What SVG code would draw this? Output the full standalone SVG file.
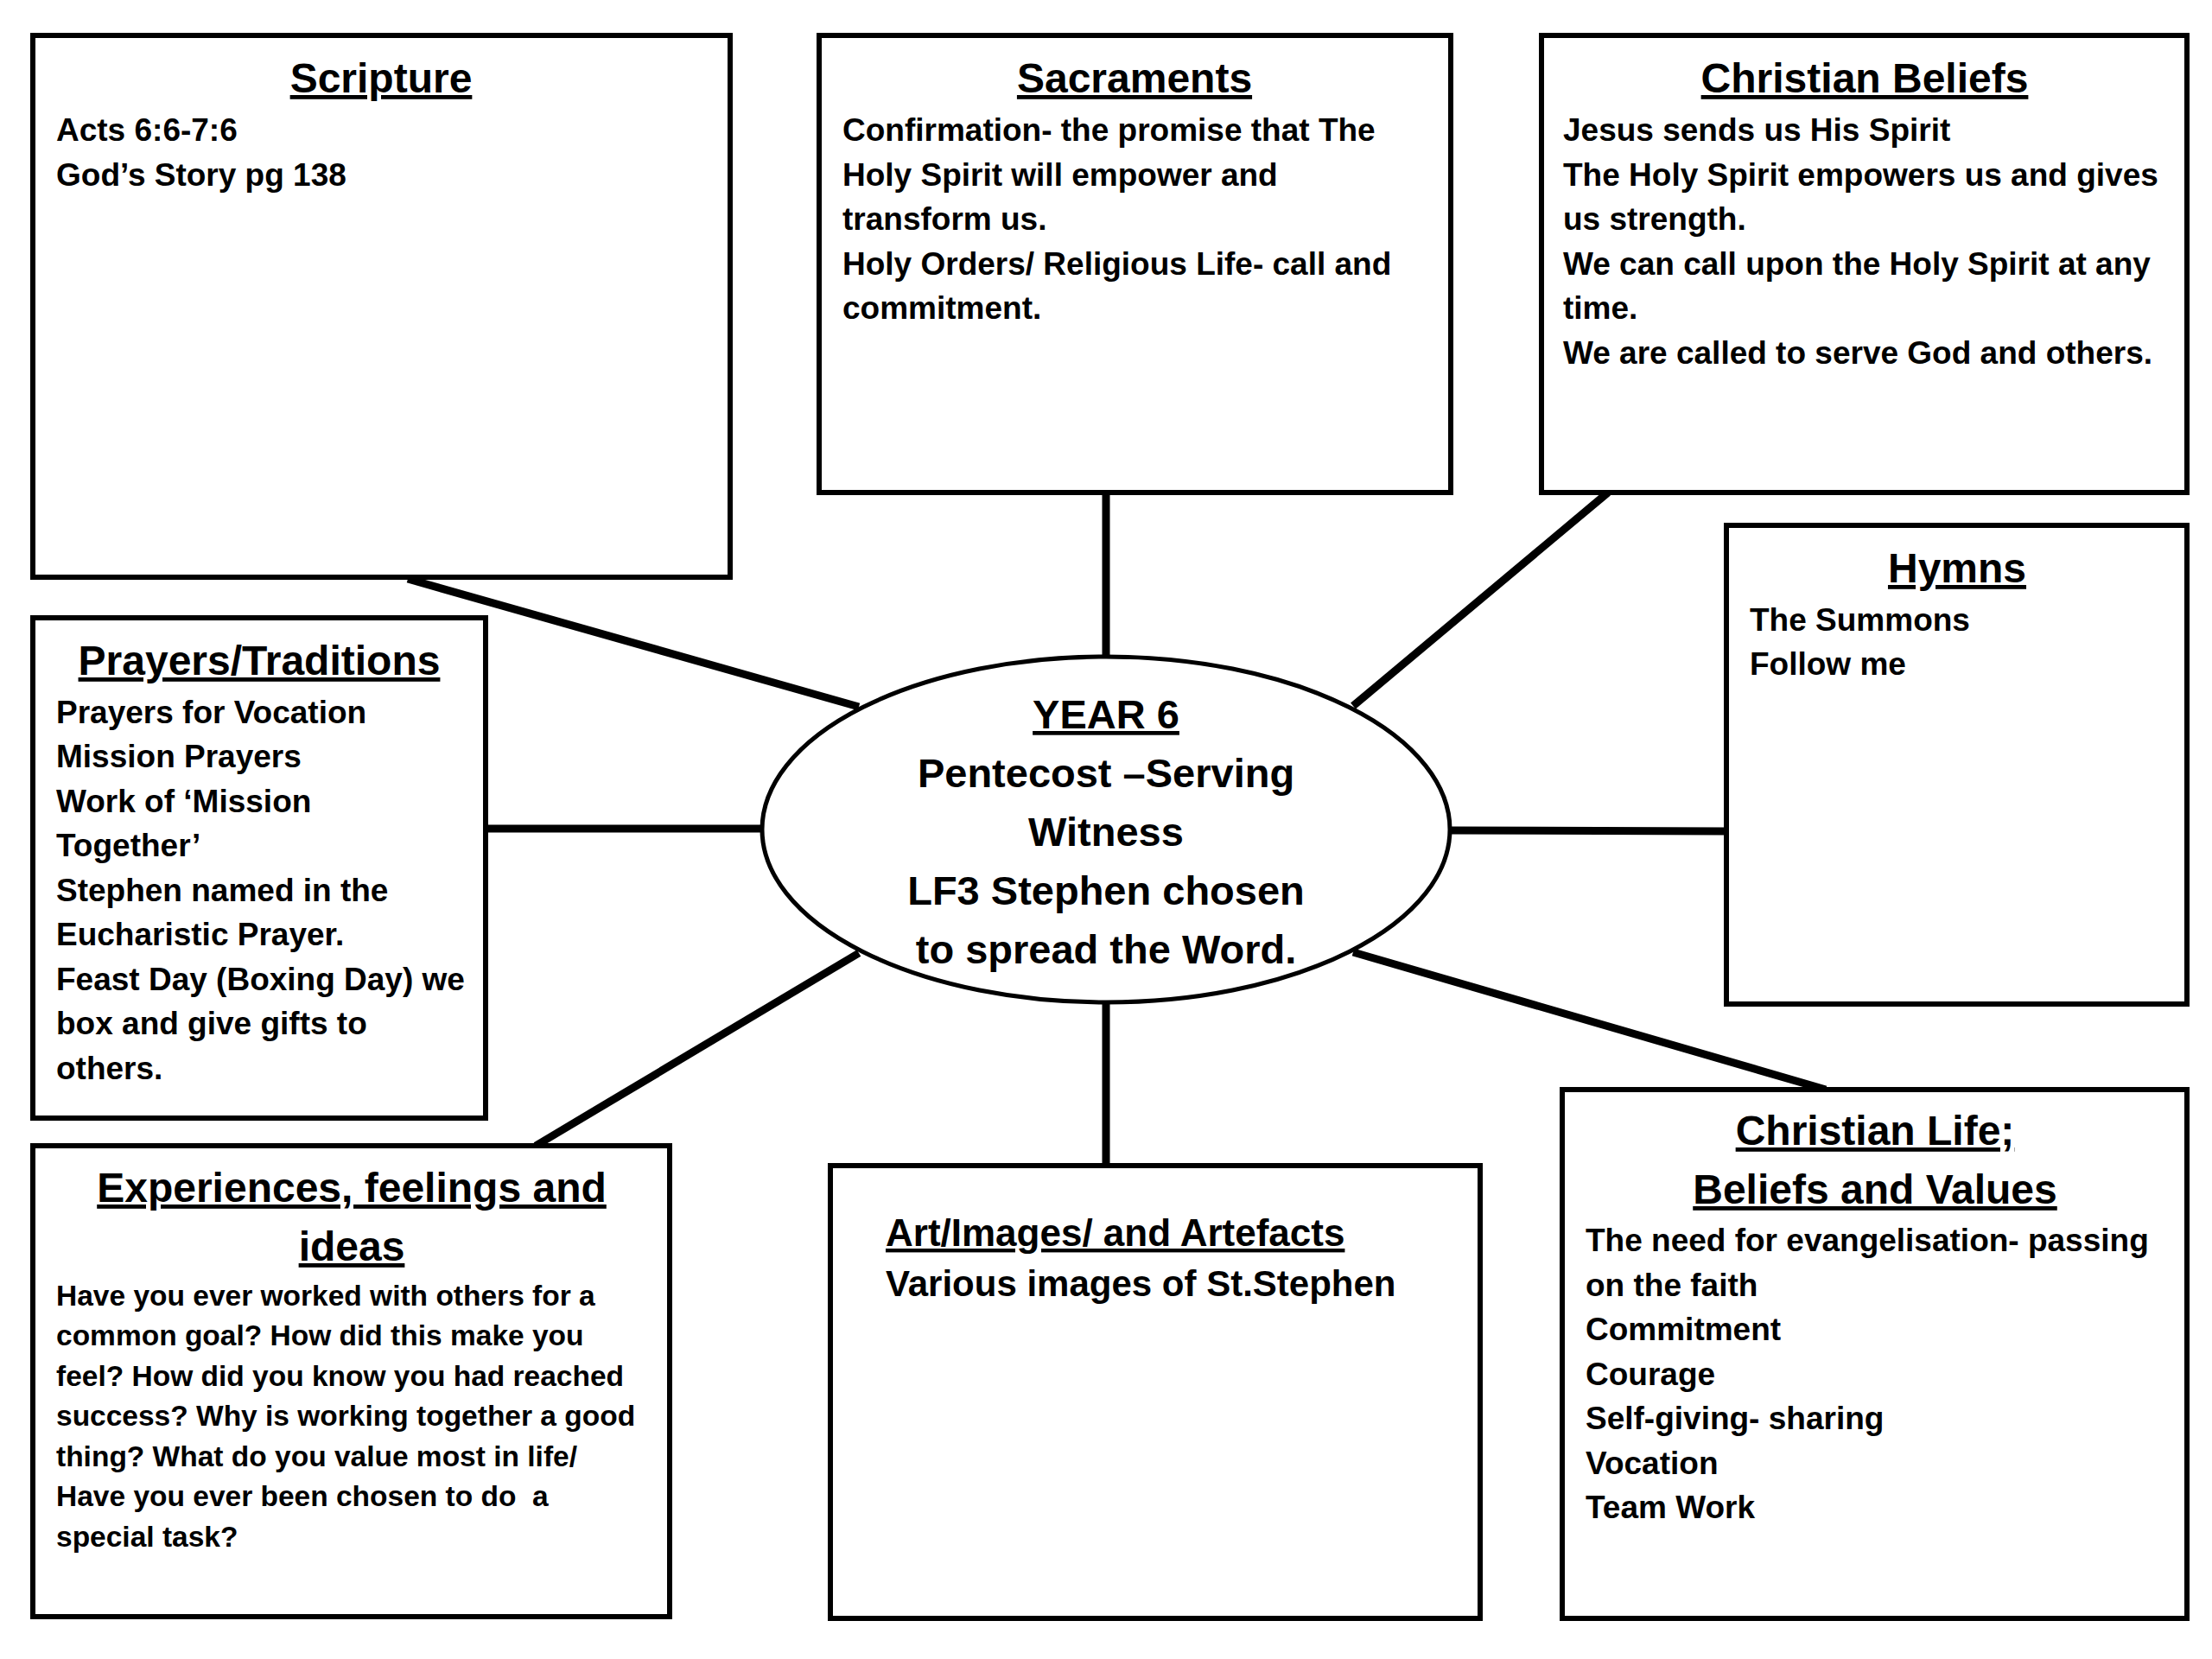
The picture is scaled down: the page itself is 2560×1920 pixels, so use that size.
<svg xmlns="http://www.w3.org/2000/svg" width="2560" height="1920" viewBox="0 0 2560 1920">
<style>
.box{fill:#fff;stroke:#000;stroke-width:6}
.conn{stroke:#000;stroke-width:9;fill:none}
.hub{fill:#fff;stroke:#000;stroke-width:5}
text{font-family:"Liberation Sans",Arial,sans-serif;font-weight:bold;fill:#000}
.title{font-size:48px;text-anchor:middle;text-decoration:underline}
.body{font-size:37px}
.small{font-size:33.5px}
.hubt{font-size:47px;text-anchor:middle}
</style>
<rect width="2560" height="1920" fill="#fff"/>
<g id="connectors">
<line class="conn" x1="472" y1="670" x2="994" y2="818"/>
<line class="conn" x1="1280" y1="570" x2="1280" y2="760"/>
<line class="conn" x1="1861" y1="570" x2="1566" y2="817"/>
<line class="conn" x1="1677" y1="961" x2="1998" y2="962"/>
<line class="conn" x1="562" y1="959" x2="882" y2="959"/>
<line class="conn" x1="994" y1="1103" x2="620" y2="1326"/>
<line class="conn" x1="1280" y1="1160" x2="1280" y2="1349"/>
<line class="conn" x1="1566" y1="1102" x2="2113" y2="1261"/>
</g>
<g id="scripture">
<rect class="box" x="38" y="41" width="807" height="627"/>
<text class="title" x="441" y="107">Scripture</text>
<text class="body" x="65" y="163">Acts 6:6-7:6</text>
<text class="body" x="65" y="215">God’s Story pg 138</text>
</g>
<g id="sacraments">
<rect class="box" x="948" y="41" width="731" height="529"/>
<text class="title" x="1313" y="107">Sacraments</text>
<text class="body" x="975" y="163">Confirmation- the promise that The</text>
<text class="body" x="975" y="215">Holy Spirit will empower and</text>
<text class="body" x="975" y="266">transform us.</text>
<text class="body" x="975" y="318">Holy Orders/ Religious Life- call and</text>
<text class="body" x="975" y="369">commitment.</text>
</g>
<g id="christian-beliefs">
<rect class="box" x="1784" y="41" width="747" height="529"/>
<text class="title" x="2158" y="107">Christian Beliefs</text>
<text class="body" x="1809" y="163">Jesus sends us His Spirit</text>
<text class="body" x="1809" y="215">The Holy Spirit empowers us and gives</text>
<text class="body" x="1809" y="266">us strength.</text>
<text class="body" x="1809" y="318">We can call upon the Holy Spirit at any</text>
<text class="body" x="1809" y="369">time.</text>
<text class="body" x="1809" y="421">We are called to serve God and others.</text>
</g>
<g id="hymns">
<rect class="box" x="1998" y="608" width="533" height="554"/>
<text class="title" x="2265" y="674">Hymns</text>
<text class="body" x="2025" y="730">The Summons</text>
<text class="body" x="2025" y="781">Follow me</text>
</g>
<g id="prayers-traditions">
<rect class="box" x="38" y="715" width="524" height="579"/>
<text class="title" x="300" y="781">Prayers/Traditions</text>
<text class="body" x="65" y="837">Prayers for Vocation</text>
<text class="body" x="65" y="888">Mission Prayers</text>
<text class="body" x="65" y="940">Work of ‘Mission</text>
<text class="body" x="65" y="991">Together’</text>
<text class="body" x="65" y="1043">Stephen named in the</text>
<text class="body" x="65" y="1094">Eucharistic Prayer.</text>
<text class="body" x="65" y="1146">Feast Day (Boxing Day) we</text>
<text class="body" x="65" y="1197">box and give gifts to</text>
<text class="body" x="65" y="1249">others.</text>
</g>
<g id="experiences">
<rect class="box" x="38" y="1326" width="737" height="545"/>
<text class="title" x="407" y="1391">Experiences, feelings and</text>
<text class="title" x="407" y="1459">ideas</text>
<text class="small" x="65" y="1511">Have you ever worked with others for a</text>
<text class="small" x="65" y="1557">common goal? How did this make you</text>
<text class="small" x="65" y="1604">feel? How did you know you had reached</text>
<text class="small" x="65" y="1650">success? Why is working together a good</text>
<text class="small" x="65" y="1697">thing? What do you value most in life/</text>
<text class="small" x="65" y="1743" xml:space="preserve">Have you ever been chosen to do  a</text>
<text class="small" x="65" y="1790">special task?</text>
</g>
<g id="art-images">
<rect class="box" x="961" y="1349" width="752" height="524"/>
<text x="1025" y="1442" style="font-size:44px;text-decoration:underline">Art/Images/ and Artefacts</text>
<text x="1025" y="1500" style="font-size:42px">Various images of St.Stephen</text>
</g>
<g id="christian-life">
<rect class="box" x="1808" y="1261" width="723" height="612"/>
<text class="title" x="2170" y="1325">Christian Life;</text>
<text class="title" x="2170" y="1393">Beliefs and Values</text>
<text class="body" x="1835" y="1448">The need for evangelisation- passing</text>
<text class="body" x="1835" y="1500">on the faith</text>
<text class="body" x="1835" y="1551">Commitment</text>
<text class="body" x="1835" y="1603">Courage</text>
<text class="body" x="1835" y="1654">Self-giving- sharing</text>
<text class="body" x="1835" y="1706">Vocation</text>
<text class="body" x="1835" y="1757">Team Work</text>
</g>
<g id="centre">
<ellipse class="hub" cx="1280" cy="960" rx="398" ry="200"/>
<text class="hubt" x="1280" y="843" style="text-decoration:underline">YEAR 6</text>
<text class="hubt" x="1280" y="911">Pentecost –Serving</text>
<text class="hubt" x="1280" y="979">Witness</text>
<text class="hubt" x="1280" y="1047">LF3 Stephen chosen</text>
<text class="hubt" x="1280" y="1115">to spread the Word.</text>
</g>
</svg>
